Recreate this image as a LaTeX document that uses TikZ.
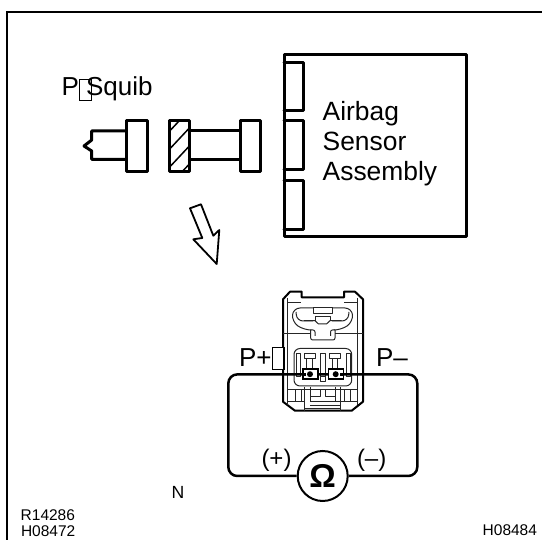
\documentclass[tikz,border=0pt]{standalone}
\usepackage{fontspec}
\setmainfont{Liberation Sans}
\tikzset{
  thick line/.style={line width=3pt,line join=round,line cap=round},
  wire/.style={line width=2.5pt,rounded corners=9pt},
  fine/.style={line width=1pt,black!85,line join=round},
  medium/.style={line width=1.5pt,line join=round},
  label/.style={inner sep=0pt,outer sep=0pt,anchor=base west},
  big/.style={label,font=\fontsize{26}{30}\selectfont},
  bigger/.style={label,font=\fontsize{26.4}{30}\selectfont},
  small/.style={label,font=\fontsize{15.5}{18}\selectfont},
}
\begin{document}
\begin{tikzpicture}[x=1pt,y=-1pt]
\useasboundingbox (0,0) rectangle (542,540);
% frame
\draw[line width=2.4pt] (7,540) -- (7,12) -- (542,12);
% airbag sensor assembly
\draw[thick line] (284,54.5) rectangle (466,236.5);
\draw[thick line] (284,63) -- (303,63) -- (303,111) -- (284,111);
\draw[thick line] (284,121) -- (303,121) -- (303,169.5) -- (284,169.5);
\draw[thick line] (284,181) -- (303,181) -- (303,229.5) -- (284,229.5);
\node[bigger] (airbag) at (322.7,121) {Airbag};
\node[bigger] (sensor) at (322.7,151) {Sensor};
\node[bigger] (assembly) at (322.7,180.7) {Assembly};
% squib label
\node[big] (p) at (61.7,96) {P};
\node[big] (squib) at (86,96) {Squib};
\draw[line width=0.9pt] (79.3,79.3) rectangle (91.7,100.7);
% plug
\draw[thick line] (126,131) -- (91.7,131) -- (91.7,140) -- (84,146) -- (91.7,151) -- (91.7,159.3) -- (126,159.3);
\draw[thick line] (126,120.7) rectangle (147.3,171.7);
% hatched block
\begin{scope}
\clip (169.3,120.7) rectangle (189.3,171.7);
\foreach \d in {0,18,36,54}
  \draw[line width=1.5pt] (165,136+\d) -- (195,104+\d);
\end{scope}
\draw[thick line] (169.3,120.7) rectangle (189.3,171.7);
\draw[thick line] (189.3,131) -- (240,131);
\draw[thick line] (189.3,159.3) -- (240,159.3);
\draw[thick line] (240,120.7) rectangle (260,171.7);
% hollow arrow
\draw[medium,line width=1.8pt,miter limit=10] (190,208.3) -- (201,204.3) -- (213.3,235.7) -- (219.3,230) -- (216.7,264) -- (193.3,239.3) -- (202.3,238) -- cycle;
% connector housing
\draw[line width=2pt,line join=round] (283,299.3) -- (290,291.7) -- (301.7,291.7) -- (301.7,297.3) -- (344,297.3) -- (344,291.7) -- (355,291.7) -- (363,299.3) -- (363,401.7) -- (351.7,410.7) -- (295,410.7) -- (283,401.7) -- cycle;
% housing details, upper
\draw[fine] (287.3,298) -- (287.3,405);
\draw[fine] (357.3,298) -- (357.3,405);
\draw[fine] (287.3,303) -- (301,303);
\draw[fine] (344,303) -- (357.3,303);
\draw[fine] (283,333.3) -- (310,333.3);
\draw[fine] (335,333.3) -- (363,333.3);
\draw[fine,rounded corners=7pt] (313,308) -- (293,308) -- (292,322) -- (304,330) -- (310,330);
\draw[fine,rounded corners=7pt] (332,308) -- (352,308) -- (353,322) -- (341,330) -- (335,330);
\draw[fine] (313,308) -- (332,308) -- (332,313.5) -- (313,313.5) -- cycle;
\draw[fine,rounded corners=6pt] (313,321) -- (297,321) -- (296,312);
\draw[fine,rounded corners=6pt] (332,321) -- (348,321) -- (349,312);
\draw[fine] (315,321) -- (315,317) -- (330,317) -- (330,321);
\draw[fine] (304,320.7) -- (315,320.7) -- (318.5,324) -- (326.5,324) -- (330,320.7) -- (341.7,320.7);
\draw[line width=1pt,black!85,rounded corners=2pt] (310.7,330) -- (310.7,340) -- (335,340) -- (335,330);
\draw[fine,rounded corners=2pt] (310.7,330) -- (315,330) -- (315,336);
\draw[fine,rounded corners=2pt] (335,330) -- (330.5,330) -- (330.5,336);
% housing details, terminals
\draw[fine,rounded corners=6pt] (294,348.5) rectangle (351.7,386);
\draw[fine] (304,354) rectangle (315,358.5);
\draw[fine] (329.3,354) rectangle (340,358.5);
\draw[fine] (306.7,358.5) -- (306.7,369) (312.3,358.5) -- (312.3,369);
\draw[fine] (332.3,358.5) -- (332.3,369) (337.7,358.5) -- (337.7,369);
\draw[fine] (296.7,353.5) rectangle (300,377);
\draw[fine] (346,353.5) rectangle (350,377);
\draw[fine] (320.7,353.5) rectangle (325,377);
\draw[fine] (320.7,377) rectangle (325,382);
% housing details, lower
\draw[fine] (287.3,389.3) -- (357.3,389.3);
\draw[fine] (295,389.3) -- (295,402) (301,389.3) -- (301,402);
\draw[fine] (344,389.3) -- (344,402) (350,389.3) -- (350,402);
\draw[fine] (304.5,387) -- (304.5,410.7) (310,387) -- (310,402);
\draw[fine] (335,387) -- (335,402) (340,387) -- (340,410.7);
\draw[fine] (310,402) -- (340,402) (310,405.5) -- (340,405.5) (304.5,408.5) -- (340,408.5);
\draw[fine] (320,389.3) -- (320,397) -- (310,397);
\draw[fine] (325,389.3) -- (325,397) -- (335,397);
\draw[fine] (287.3,402) -- (304.5,402);
\draw[fine] (340,402) -- (357.3,402);
% ohmmeter
\node[circle,draw,line width=2pt,minimum size=50pt,inner sep=0pt,font=\bfseries\fontsize{33}{36}\selectfont] (ohm) at (322.7,476) {Ω};
\draw[wire] (ohm.west) -- (228.3,476) -- (228.3,374.4) -- (417.3,374.4) -- (417.3,476) -- (ohm.east);
% terminals
\draw[line width=1.6pt,fill=white] (302.7,369) rectangle (317.7,379);
\draw[line width=1.6pt,fill=white] (328.3,369) rectangle (343.3,379);
\fill (310,374.2) circle (3pt);
\fill (335.7,374.2) circle (3pt);
\draw[line width=2.4pt] (302.7,374.4) -- (306,374.4);
\draw[line width=2.4pt] (340,374.4) -- (343.3,374.4);
% labels
\node[big] (pplus) at (239,367) {P+};
\draw[line width=1.5pt,fill=white] (272.7,347.7) rectangle (284,369.3);
\node[big] (pminus) at (376,367) {P–};
\node[label,font=\fontsize{24}{28}\selectfont] (plus) at (261.5,467) {(+)};
\node[label,font=\fontsize{24}{28}\selectfont] (minus) at (357,467) {(–)};
\node[label,font=\fontsize{17.6}{20}\selectfont] (n) at (171.7,499) {N};
\node[small] (r) at (20.7,520.5) {R14286};
\node[small] (h1) at (21,536.8) {H08472};
\node[small] (h2) at (482.7,535.7) {H08484};
\end{tikzpicture}
\end{document}
